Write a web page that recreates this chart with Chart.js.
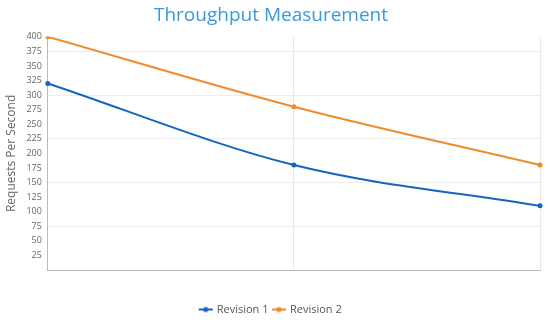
<!DOCTYPE html>
<html>
<head>
<meta charset="utf-8">
<script src="https://cdn.jsdelivr.net/npm/chart.js@4/dist/chart.umd.min.js"></script>
<style>
html,body{margin:0;padding:0;background:#fff;}
#wrap{width:550px;height:325px;}
</style>
</head>
<body>
<div id="wrap"><canvas id="c" width="550" height="325"></canvas></div>
<script>
const categories = ['Point 1', 'Point 2', 'Point 3'];
const revision1 = [320, 180, 110];
const revision2 = [400, 280, 180];
const seriesNames = ['Revision 1', 'Revision 2'];
const seriesColors = ['#1565c0', '#f08a2e'];

function legendMarker(color) {
  const cv = document.createElement('canvas');
  cv.width = 16; cv.height = 8;
  const ctx = cv.getContext('2d');
  ctx.strokeStyle = color; ctx.lineWidth = 2;
  ctx.beginPath(); ctx.moveTo(1, 4); ctx.lineTo(15, 4); ctx.stroke();
  ctx.fillStyle = color;
  ctx.beginPath(); ctx.arc(8, 4, 2.6, 0, Math.PI * 2); ctx.fill();
  return cv;
}

new Chart(document.getElementById('c'), {
  type: 'line',
  data: {
    labels: categories,
    datasets: [
      { label: seriesNames[0], data: revision1, borderColor: seriesColors[0], backgroundColor: seriesColors[0],
        borderWidth: 2, pointRadius: 2.5, pointBorderWidth: 0, pointStyle: 'circle', tension: 0.4, cubicInterpolationMode: 'monotone' },
      { label: seriesNames[1], data: revision2, borderColor: seriesColors[1], backgroundColor: seriesColors[1],
        borderWidth: 2, pointRadius: 2.5, pointBorderWidth: 0, pointStyle: 'circle', tension: 0.4, cubicInterpolationMode: 'monotone' }
    ]
  },
  options: {
    responsive: false,
    animation: false,
    layout: { padding: { left: 2, right: 10, top: 0, bottom: 0 } },
    plugins: {
      title: { display: true, text: 'Throughput Measurement', color: '#3a9ad9',
        font: { family: 'Open Sans', size: 19, weight: 'normal' }, padding: { top: 4, bottom: 10 } },
      legend: { position: 'bottom',
        labels: { usePointStyle: true, color: '#555', font: { family: 'Open Sans', size: 11 }, padding: 5,
          generateLabels: (chart) => chart.data.datasets.map((d, i) => ({
            text: d.label, pointStyle: legendMarker(d.borderColor), fillStyle: d.borderColor,
            strokeStyle: d.borderColor, lineWidth: 0, datasetIndex: i, fontColor: '#555'
          })) } },
      tooltip: { enabled: false }
    },
    scales: {
      x: {
        ticks: { display: true, callback: () => '', font: { size: 10 }, padding: 8.5 },
        grid: { color: '#e8e8e8', drawTicks: false },
        border: { color: '#bbb' }
      },
      y: {
        min: 0, max: 400,
        title: { display: true, text: 'Requests Per Second', color: '#666', font: { family: 'Open Sans', size: 12 }, padding: 2 },
        ticks: { stepSize: 25, autoSkip: false, color: '#666', font: { family: 'Open Sans', size: 9 }, padding: 6,
          callback: (v) => v === 0 ? '' : v },
        grid: { color: (c) => (c.tick && c.tick.value % 75 === 0 && c.tick.value !== 0) ? '#ececec' : 'rgba(0,0,0,0)', drawTicks: false },
        border: { color: '#bbb' }
      }
    }
  }
});
</script>
</body>
</html>
